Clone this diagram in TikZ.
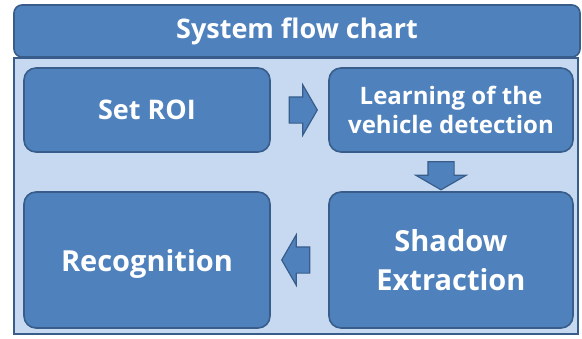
\documentclass[tikz,border=0pt]{standalone}
\usepackage{fontspec}
\setmainfont{Open Sans}
\usetikzlibrary{shapes.arrows,calc}
\definecolor{boxblue}{HTML}{4F81BD}
\definecolor{edgeblue}{HTML}{385D8A}
\definecolor{panelblue}{HTML}{C6D9F1}

\tikzset{
  stepbox/.style={rectangle, rounded corners=12pt, draw=edgeblue, line width=1.6pt,
    fill=boxblue, text=white, font=\bfseries, align=center, inner sep=0pt},
  flowarrow/.style={single arrow, draw=edgeblue, line width=1.2pt, fill=boxblue,
    minimum height=28pt, inner sep=0pt, inner ysep=12.5pt, outer sep=0pt,
    single arrow head extend=12pt, single arrow tip angle=120}
}

\begin{document}
\begin{tikzpicture}[x=1pt,y=-1pt]
\useasboundingbox (0,0) rectangle (582,338);

% background panel and title bar
\draw[edgeblue, line width=1.6pt, fill=panelblue] (14,58) rectangle (578,334);
\node[stepbox, rounded corners=8pt, minimum width=566pt, minimum height=52pt,
  font=\bfseries\fontsize{27}{30}\selectfont] (title) at (297,31) {System flow chart};

% steps
\node[stepbox, minimum width=246pt, minimum height=84pt,
  font=\bfseries\fontsize{27}{30}\selectfont] (roi) at (147,110) {Set ROI};
\node[stepbox, minimum width=244pt, minimum height=84pt,
  font=\bfseries\fontsize{24}{29}\selectfont] (learn) at (451,110) {Learning of the\\vehicle detection};
\node[stepbox, minimum width=244pt, minimum height=136pt,
  font=\bfseries\fontsize{29}{39}\selectfont] (shadow) at (451,260) {Shadow\\Extraction};
\node[stepbox, minimum width=246pt, minimum height=136pt, text depth=0pt,
  font=\bfseries\fontsize{29}{32}\selectfont] (recog) at (147,260) {Recognition};

% block arrows between the steps
\node[flowarrow] (a1) at ($(roi.east)!0.5!(learn.west)$) {};
\node[flowarrow, rotate=-90] (a2) at ($(learn.south)!0.5!(shadow.north)+(-10,0)$) {};
\node[flowarrow, rotate=180] (a3) at ($(shadow.west)!0.5!(recog.east)$) {};
\end{tikzpicture}
\end{document}
